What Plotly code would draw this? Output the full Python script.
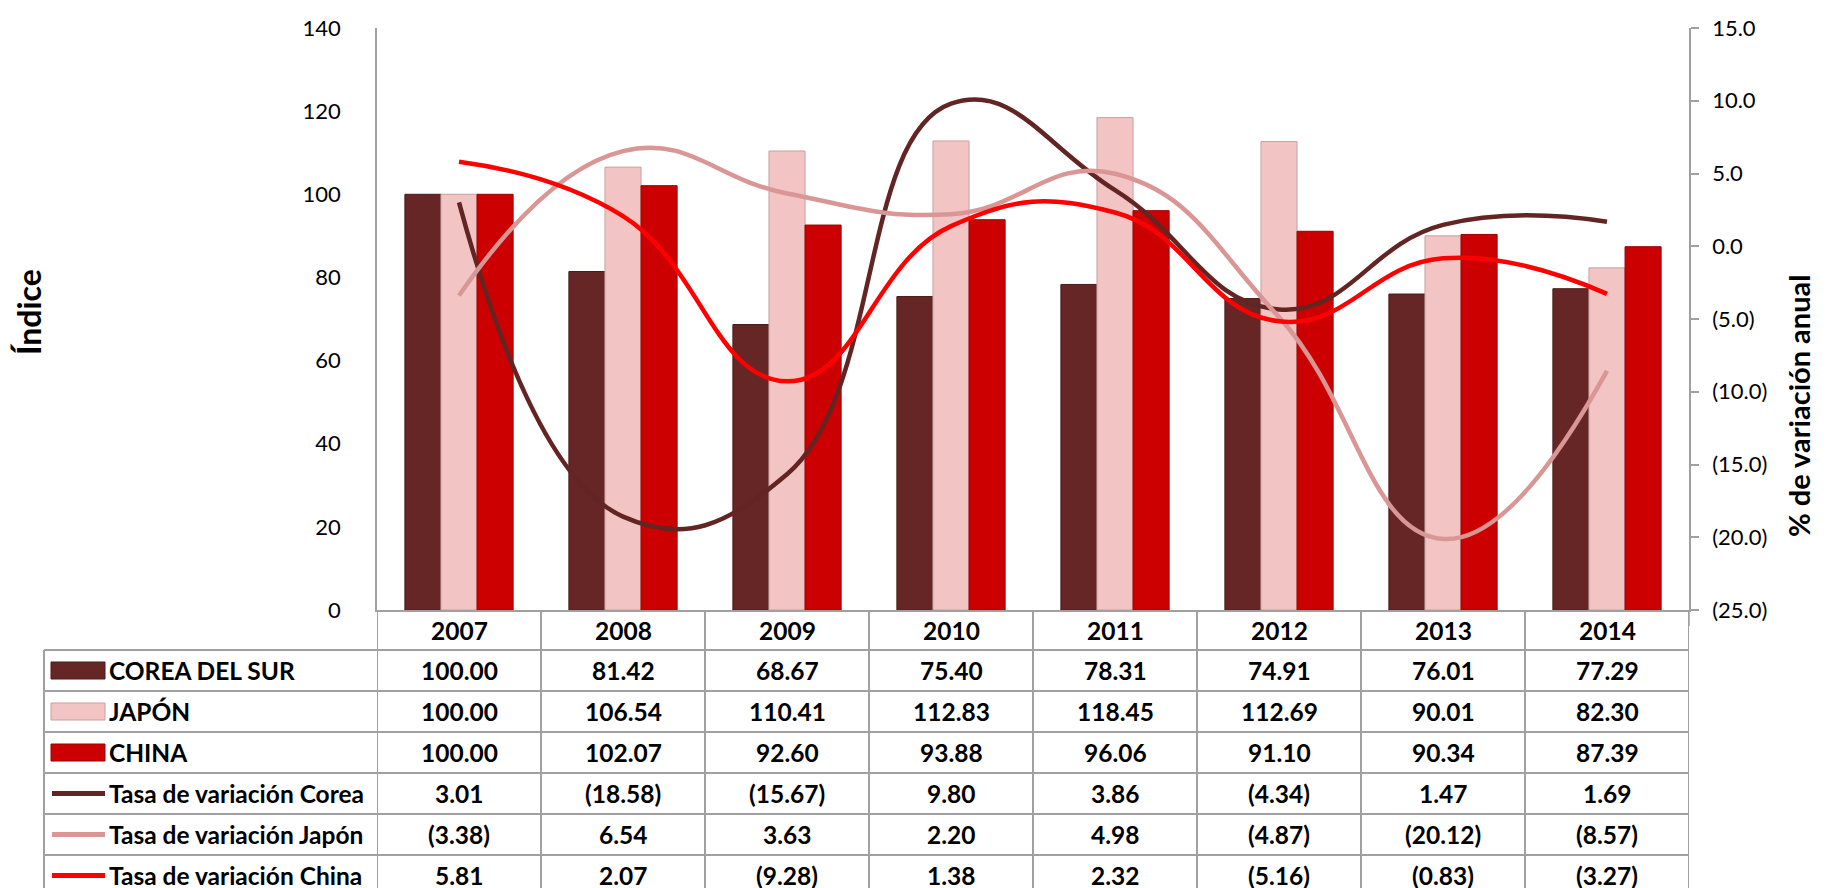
import plotly.graph_objects as go

# ---------------- data ----------------
years = ["2007", "2008", "2009", "2010", "2011", "2012", "2013", "2014"]
corea = [100.00, 81.42, 68.67, 75.40, 78.31, 74.91, 76.01, 77.29]
japon = [100.00, 106.54, 110.41, 112.83, 118.45, 112.69, 90.01, 82.30]
china = [100.00, 102.07, 92.60, 93.88, 96.06, 91.10, 90.34, 87.39]
tasa_corea = [3.01, -18.58, -15.67, 9.80, 3.86, -4.34, 1.47, 1.69]
tasa_japon = [-3.38, 6.54, 3.63, 2.20, 4.98, -4.87, -20.12, -8.57]
tasa_china = [5.81, 2.07, -9.28, 1.38, 2.32, -5.16, -0.83, -3.27]

bar_names = ["COREA DEL SUR", "JAPÓN", "CHINA"]
line_names = ["Tasa de variación Corea", "Tasa de variación Japón", "Tasa de variación China"]
left_ticks = [0, 20, 40, 60, 80, 100, 120, 140]
right_ticks = [15, 10, 5, 0, -5, -10, -15, -20, -25]

# ---------------- style ----------------
W, H = 1829, 888
L, R, T, B = 369, 148, 20, 286
PW, PH = W - L - R, H - T - B
bar_colors = ["#662626", "#F2C4C4", "#CC0000"]
bar_edges = ["#4A1A1A", "#C9A0A0", "#990000"]
line_colors = ["#632523", "#D99694", "#FF0000"]
GRID = "#A0A0A0"
FONT = "Lato, 'Open Sans', sans-serif"
TFS = 24.5  # table font size


def px_x(px):
    return (px - L) / PW


def px_y(py):
    return (H - B - py) / PH


def fmt2(v):
    return f"({abs(v):.2f})" if v < 0 else f"{v:.2f}"


def fmt1(v):
    return f"({abs(v):.1f})" if v < 0 else f"{v:.1f}"


fig = go.Figure()
for name, vals, c, e in zip(bar_names, [corea, japon, china], bar_colors, bar_edges):
    fig.add_trace(go.Bar(x=years, y=vals, name=name, marker=dict(color=c, line=dict(color=e, width=1)),
                         yaxis="y"))
for name, vals, c in zip(line_names, [tasa_corea, tasa_japon, tasa_china], line_colors):
    fig.add_trace(go.Scatter(x=years, y=vals, name=name, mode="lines",
                             line=dict(color=c, width=4.5, shape="spline", smoothing=1.3),
                             yaxis="y2"))

shapes = []
annotations = []

# table grid
row_top = 642
row_h = 41
n_rows = 6
bottom = row_top + row_h * n_rows
for k in range(len(years) + 1):
    shapes.append(dict(type="line", xref="x", yref="paper", x0=k - 0.5, x1=k - 0.5,
                       y0=px_y(602), y1=px_y(min(bottom, H - 1)), line=dict(color=GRID, width=2)))
shapes.append(dict(type="line", xref="paper", yref="paper", x0=px_x(36), x1=px_x(36),
                   y0=px_y(row_top), y1=px_y(min(bottom, H - 1)), line=dict(color=GRID, width=2)))
for r in range(n_rows + 1):
    yy = min(row_top + r * row_h, H - 1)
    shapes.append(dict(type="line", xref="paper", yref="paper", x0=px_x(36), x1=1.0,
                       y0=px_y(yy), y1=px_y(yy), line=dict(color=GRID, width=2)))
# right axis continues slightly below the category axis
shapes.append(dict(type="line", xref="paper", yref="paper", x0=1.0, x1=1.0,
                   y0=px_y(602), y1=px_y(618), line=dict(color=GRID, width=1.5)))

# header years (x as category index)
for i, yr in enumerate(years):
    annotations.append(dict(x=i, xref="x", y=px_y(622), yref="paper", text=f"<b>{yr}</b>",
                            showarrow=False, font=dict(family=FONT, size=TFS, color="#000000"),
                            xanchor="center", yanchor="middle"))

# rows
rows = [(bar_names[0], corea, "bar", 0), (bar_names[1], japon, "bar", 1), (bar_names[2], china, "bar", 2),
        (line_names[0], tasa_corea, "line", 0), (line_names[1], tasa_japon, "line", 1),
        (line_names[2], tasa_china, "line", 2)]
for i, (name, vals, kind, ci) in enumerate(rows):
    cy = row_top + row_h * (i + 0.5)
    if kind == "bar":
        shapes.append(dict(type="rect", xref="paper", yref="paper", x0=px_x(43), x1=px_x(97),
                           y0=px_y(cy - 8.5), y1=px_y(cy + 8.5), fillcolor=bar_colors[ci],
                           line=dict(color=bar_edges[ci], width=1)))
    else:
        shapes.append(dict(type="line", xref="paper", yref="paper", x0=px_x(44), x1=px_x(97),
                           y0=px_y(cy), y1=px_y(cy), line=dict(color=line_colors[ci], width=5)))
    annotations.append(dict(x=px_x(99), xref="paper", y=px_y(cy), yref="paper", text=f"<b>{name}</b>",
                            showarrow=False, font=dict(family=FONT, size=TFS, color="#000000"),
                            xanchor="left", yanchor="middle"))
    for j, v in enumerate(vals):
        annotations.append(dict(x=j, xref="x", y=px_y(cy), yref="paper", text=f"<b>{fmt2(v)}</b>",
                                showarrow=False, font=dict(family=FONT, size=TFS, color="#000000"),
                                xanchor="center", yanchor="middle"))

# axis titles
annotations.append(dict(x=px_x(20), xref="paper", y=px_y(304), yref="paper", text="<b>Índice</b>",
                        textangle=-90, showarrow=False, font=dict(family=FONT, size=32, color="#000000"),
                        xanchor="center", yanchor="middle"))
annotations.append(dict(x=px_x(1790), xref="paper", y=px_y(398), yref="paper",
                        text="<b>% de variación anual</b>", textangle=-90, showarrow=False,
                        font=dict(family=FONT, size=29, color="#000000"), xanchor="center", yanchor="middle"))

fig.update_layout(
    width=W, height=H,
    margin=dict(l=L, r=R, t=T, b=B, autoexpand=False),
    paper_bgcolor="white", plot_bgcolor="white",
    showlegend=False,
    barmode="group", bargap=0.34, bargroupgap=0.0,
    font=dict(family=FONT, size=22, color="#000000"),
    xaxis=dict(type="category", range=[-0.5, len(years) - 0.5], showticklabels=False, showgrid=False,
               showline=True, linecolor=GRID, linewidth=2, ticks="", zeroline=False),
    yaxis=dict(range=[0, 140], tickvals=left_ticks, ticktext=[str(v) for v in left_ticks],
               showgrid=False, zeroline=False, showline=True, linecolor=GRID, linewidth=1.5,
               ticks="", ticklabelstandoff=30, tickfont=dict(family=FONT, size=22, color="#000000")),
    yaxis2=dict(range=[-25, 15], overlaying="y", side="right", tickvals=right_ticks,
                ticktext=[fmt1(v) for v in right_ticks], showgrid=False, zeroline=False,
                showline=True, linecolor=GRID, linewidth=1.5, ticks="outside", ticklen=8,
                tickcolor=GRID, tickwidth=1.5, ticklabelstandoff=9,
                tickfont=dict(family=FONT, size=22, color="#000000")),
    shapes=shapes,
    annotations=annotations,
)

fig.write_html("out.html")
